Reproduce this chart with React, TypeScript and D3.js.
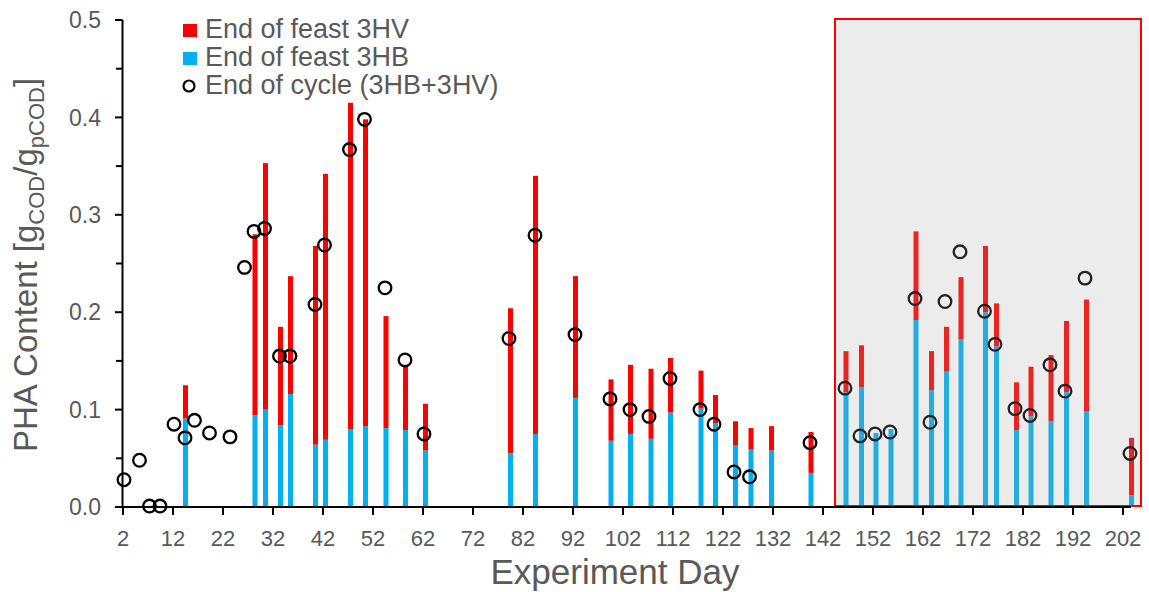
import React from "react";
import * as d3 from "d3";

const W = 1149;
const H = 592;

// Bars: experiment day, end-of-feast 3HB, end-of-feast 3HV
const barDays = [14.5, 28.4, 30.5, 33.5, 35.5, 40.5, 42.5, 47.5, 50.5, 54.6, 58.5, 62.5, 79.5, 84.5, 92.5, 99.6, 103.5, 107.6, 111.5, 117.6, 120.5, 124.5, 127.6, 131.7, 139.6, 146.6, 149.7, 152.6, 155.6, 160.6, 163.7, 166.7, 169.6, 174.5, 176.7, 180.7, 183.6, 187.6, 190.7, 194.7, 203.7];
const feast3HB = [0.091, 0.094, 0.100, 0.084, 0.116, 0.064, 0.069, 0.080, 0.083, 0.081, 0.079, 0.058, 0.055, 0.075, 0.112, 0.068, 0.075, 0.070, 0.097, 0.101, 0.086, 0.063, 0.059, 0.058, 0.035, 0.118, 0.123, 0.076, 0.080, 0.192, 0.120, 0.139, 0.172, 0.200, 0.165, 0.079, 0.093, 0.088, 0.118, 0.098, 0.012];
const feast3HV = [0.034, 0.186, 0.253, 0.101, 0.121, 0.204, 0.273, 0.335, 0.315, 0.115, 0.067, 0.048, 0.149, 0.265, 0.125, 0.063, 0.071, 0.072, 0.056, 0.039, 0.029, 0.025, 0.022, 0.025, 0.042, 0.042, 0.043, 0.0, 0.0, 0.091, 0.040, 0.046, 0.064, 0.068, 0.044, 0.049, 0.051, 0.068, 0.073, 0.115, 0.059];

// End of cycle circles
const cycleDays = [2.2, 5.3, 7.3, 9.4, 12.2, 14.4, 16.3, 19.3, 23.4, 26.3, 28.2, 30.3, 33.3, 35.4, 40.4, 42.3, 47.3, 50.3, 54.4, 58.4, 62.2, 79.2, 84.4, 92.4, 99.4, 103.4, 107.2, 111.4, 117.4, 120.2, 124.2, 127.3, 139.4, 146.4, 149.4, 152.4, 155.4, 160.4, 163.4, 166.4, 169.4, 174.3, 176.4, 180.4, 183.4, 187.4, 190.4, 194.4, 203.4];
const cycleTotal = [0.028, 0.048, 0.001, 0.001, 0.085, 0.071, 0.089, 0.076, 0.072, 0.246, 0.283, 0.286, 0.155, 0.155, 0.208, 0.269, 0.367, 0.398, 0.225, 0.151, 0.075, 0.173, 0.279, 0.177, 0.111, 0.100, 0.093, 0.132, 0.100, 0.085, 0.036, 0.031, 0.066, 0.122, 0.073, 0.075, 0.077, 0.214, 0.087, 0.211, 0.262, 0.201, 0.167, 0.101, 0.094, 0.146, 0.119, 0.235, 0.055];

const xTicks = [2, 12, 22, 32, 42, 52, 62, 72, 82, 92, 102, 112, 122, 132, 142, 152, 162, 172, 182, 192, 202];
const yTicks = [0, 0.1, 0.2, 0.3, 0.4, 0.5];
const yMinor = [0.05, 0.15, 0.25, 0.35, 0.45];
const shadedDays = [144.4, 205.6];

const legendItems = ["End of feast 3HV", "End of feast 3HB", "End of cycle (3HB+3HV)"];

const RED = "#ff0000";
const BLUE = "#00b0f0";
const TXT = "#595959";
const FONT = "'Liberation Sans', Arial, Helvetica, sans-serif";

export default function App() {
  const x = d3.scaleLinear().domain([2, 202]).range([123, 1123]);
  const y = d3.scaleLinear().domain([0, 0.5]).range([507, 20]);
  const bw = 5;
  const y0 = y(0);

  return (
    <svg width={W} height={H} style={{ position: "absolute", left: 0, top: 0, background: "#fff" }} fontFamily={FONT}>
      {/* bars */}
      {barDays.map((d, i) => {
        const hb = feast3HB[i];
        const hv = feast3HV[i];
        return (
          <g key={"b" + i}>
            <rect x={x(d) - bw / 2} y={y(hb)} width={bw} height={y0 - y(hb)} fill={BLUE} />
            {hv > 0 && <rect x={x(d) - bw / 2} y={y(hb + hv)} width={bw} height={y(hb) - y(hb + hv)} fill={RED} />}
          </g>
        );
      })}
      {/* circles */}
      {cycleDays.map((d, i) => (
        <circle key={"c" + i} cx={x(d)} cy={y(cycleTotal[i])} r={6.3} fill="none" stroke="#000" strokeWidth={2.3} />
      ))}
      {/* shaded region overlay */}
      <rect
        x={x(shadedDays[0])}
        y={y(0.5) - 1}
        width={x(shadedDays[1]) - x(shadedDays[0])}
        height={y0 - 1 - (y(0.5) - 1)}
        fill="rgb(165,165,165)"
        fillOpacity={0.21}
        stroke="none"
      />
      <rect
        x={x(shadedDays[0])}
        y={y(0.5) - 1}
        width={x(shadedDays[1]) - x(shadedDays[0])}
        height={y0 - 1 - (y(0.5) - 1)}
        fill="none"
        stroke={RED}
        strokeWidth={2}
      />
      {/* axes */}
      <line x1={122.5} x2={122.5} y1={y(0.5)} y2={y0} stroke="#000" strokeWidth={2} />
      <line x1={116} x2={1131} y1={y0} y2={y0} stroke="#000" strokeWidth={2} />
      {yTicks.map((t) => (
        <g key={"yt" + t}>
          <line x1={115} x2={122.5} y1={y(t)} y2={y(t)} stroke="#000" strokeWidth={2} />
          <text x={101} y={y(t)} dy="0.36em" textAnchor="end" fontSize={23} fill={TXT}>
            {d3.format(".1f")(t)}
          </text>
        </g>
      ))}
      {yMinor.map((t) => (
        <line key={"ym" + t} x1={116} x2={122.5} y1={y(t)} y2={y(t)} stroke="#000" strokeWidth={2} />
      ))}
      {xTicks.map((t) => (
        <g key={"xt" + t}>
          <line x1={x(t)} x2={x(t)} y1={y0} y2={y0 + 8} stroke="#000" strokeWidth={2} />
          <text x={x(t)} y={546} textAnchor="middle" fontSize={22} fill={TXT}>
            {t}
          </text>
        </g>
      ))}
      {/* axis titles */}
      <text x={615} y={584} textAnchor="middle" fontSize={35} fill={TXT}>
        Experiment Day
      </text>
      <text transform="translate(37,265) rotate(-90)" textAnchor="middle" fontSize={33} fill={TXT}>
        PHA Content [g
        <tspan fontSize={22} dy={7}>COD</tspan>
        <tspan dy={-7}>/g</tspan>
        <tspan fontSize={22} dy={7}>pCOD</tspan>
        <tspan dy={-7}>]</tspan>
      </text>
      {/* legend */}
      <rect x={183} y={24} width={14} height={13} fill={RED} />
      <rect x={183} y={52} width={14} height={13} fill={BLUE} />
      <circle cx={189} cy={86} r={5.5} fill="none" stroke="#000" strokeWidth={2.2} />
      {legendItems.map((t, i) => (
        <text key={t} x={205} y={38 + i * 28} fontSize={27} fill={TXT}>
          {t}
        </text>
      ))}
    </svg>
  );
}
